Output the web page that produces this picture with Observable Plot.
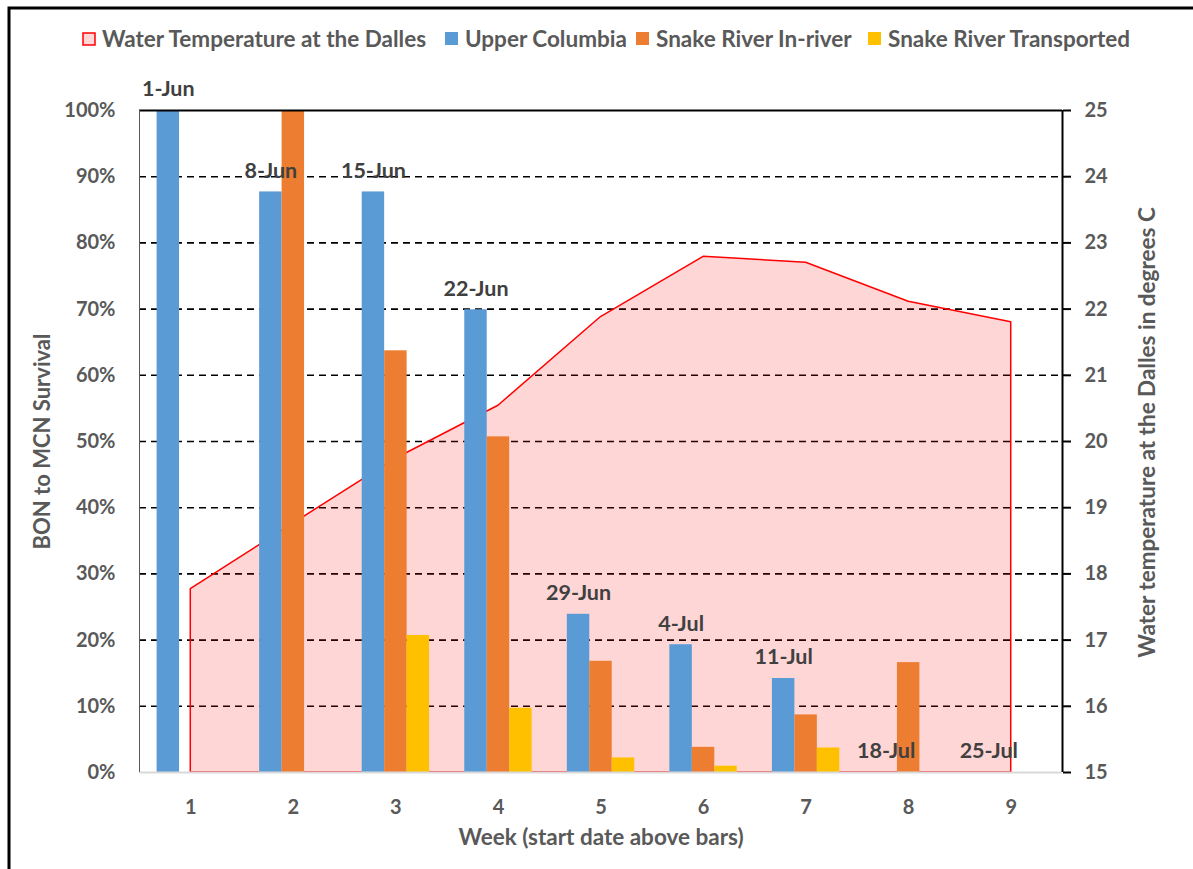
<!DOCTYPE html>
<html>
<head>
<meta charset="utf-8">
<script src="https://cdn.jsdelivr.net/npm/d3@7"></script>
<script src="https://cdn.jsdelivr.net/npm/@observablehq/plot@0.6"></script>
<style>
  html, body { margin: 0; padding: 0; background: #fff; }
  #chart { position: relative; width: 1193px; height: 869px; overflow: hidden; }
</style>
</head>
<body>
<div id="chart"></div>
<script>
// ---- data ----
const weeks = [1, 2, 3, 4, 5, 6, 7, 8, 9];
const startDates = ["1-Jun", "8-Jun", "15-Jun", "22-Jun", "29-Jun", "4-Jul", "11-Jul", "18-Jul", "25-Jul"];
const upperColumbia = [1.00, 0.877, 0.877, 0.699, 0.239, 0.193, 0.142, 0, 0];
const snakeInRiver = [0, 1.00, 0.637, 0.507, 0.168, 0.038, 0.087, 0.166, 0];
const snakeTransported = [0, 0, 0.207, 0.097, 0.022, 0.0095, 0.037, 0, 0];
const waterTemp = [17.77, 18.76, 19.74, 20.54, 21.88, 22.79, 22.70, 22.11, 21.80];
const tempDomain = [15, 25];
const pctTicks = [0, 0.1, 0.2, 0.3, 0.4, 0.5, 0.6, 0.7, 0.8, 0.9, 1.0];
const gridTicks = [0.1, 0.2, 0.3, 0.4, 0.5, 0.6, 0.7, 0.8, 0.9];
const seriesNames = ["Water Temperature at the Dalles", "Upper Columbia", "Snake River In-river", "Snake River Transported"];
const seriesColors = ["#FF0000", "#5B9BD5", "#ED7D31", "#FFC000"];

const rows = weeks.map((w, i) => ({
  week: w, date: startDates[i], uc: upperColumbia[i], sr: snakeInRiver[i], st: snakeTransported[i], temp: waterTemp[i]
}));

const tempToY = t => (t - tempDomain[0]) / (tempDomain[1] - tempDomain[0]);
const bw = 0.219; // bar width in week units
const FONT = "Lato, 'Open Sans', sans-serif";
const GRAY = "#595959";

const plot = Plot.plot({
  width: 1193,
  height: 869,
  marginTop: 110,
  marginBottom: 97,
  marginLeft: 139,
  marginRight: 131,
  style: { fontFamily: FONT, fontWeight: "bold", color: GRAY, background: "#fff", overflow: "visible" },
  x: { type: "linear", domain: [0.5, 9.5] },
  y: { domain: [0, 1] },
  marks: [
    Plot.ruleY(gridTicks, { stroke: "#000", strokeWidth: 1.6, strokeDasharray: "7,5" }),
    Plot.areaY(rows, { x: "week", y1: 0, y2: d => tempToY(d.temp), fill: "#FF0000", fillOpacity: 0.16, stroke: "#FF0000", strokeWidth: 1.5 }),
    Plot.rectY(rows, { x1: d => d.week - 1.5 * bw, x2: d => d.week - 0.5 * bw, y1: 0, y2: "uc", fill: seriesColors[1] }),
    Plot.rectY(rows, { x1: d => d.week - 0.5 * bw, x2: d => d.week + 0.5 * bw, y1: 0, y2: "sr", fill: seriesColors[2] }),
    Plot.rectY(rows, { x1: d => d.week + 0.5 * bw, x2: d => d.week + 1.5 * bw, y1: 0, y2: "st", fill: seriesColors[3] }),
    Plot.ruleY([0], { stroke: "#D9D9D9", strokeWidth: 2 }),
    Plot.ruleY([1], { x1: 0.5, x2: 9.5, stroke: "#000", strokeWidth: 2 }),
    Plot.ruleX([0.5], { y1: 0, y2: 1, stroke: "#595959", strokeWidth: 1 }),
    Plot.ruleX([9.5], { y1: 0, y2: 1, stroke: "#000", strokeWidth: 2 }),
    Plot.text(rows, { x: d => d.week - bw, y: "uc", text: "date", dy: -21, fontSize: 21.5, fontWeight: "bold", fill: "#404040" }),
    Plot.axisY({ anchor: "left", ticks: pctTicks, tickFormat: d3.format(".0%"), tickSize: 0, tickPadding: 24, fontSize: 20, label: null }),
    Plot.axisY({ anchor: "right", ticks: pctTicks, tickFormat: d => d3.format("d")(tempDomain[0] + d * (tempDomain[1] - tempDomain[0])), tickSize: 8, tickPadding: 14, stroke: "#000", strokeWidth: 2, fontSize: 20, label: null }),
    Plot.axisX({ ticks: weeks, tickFormat: d3.format("d"), tickSize: 0, tickPadding: 27, fontSize: 20, label: null }),
    Plot.text(["BON to MCN Survival"], { frameAnchor: "left", textAnchor: "middle", dx: -97, rotate: -90, fontSize: 22, fontWeight: "bold", fill: GRAY }),
    Plot.text(["Water temperature at the Dalles in degrees C"], { frameAnchor: "right", textAnchor: "middle", dx: 85, dy: -9, rotate: -90, fontSize: 22.5, fontWeight: "bold", fill: GRAY }),
    Plot.text(["Week (start date above bars)"], { frameAnchor: "bottom", dy: 72, fontSize: 22.5, fontWeight: "bold", fill: GRAY })
  ]
});

document.getElementById("chart").appendChild(plot);

// legend + outer frame
const svg = d3.select(plot);
svg.append("path").attr("d", "M9,869V8H1193").attr("fill", "none").attr("stroke", "#000").attr("stroke-width", 3);
const leg = svg.append("g").attr("font-family", FONT).attr("font-weight", "bold").attr("font-size", 22.5).attr("fill", GRAY).attr("text-anchor", "start");
const legX = [82, 445, 636, 868];
seriesNames.forEach((name, i) => {
  const g = leg.append("g").attr("transform", `translate(${legX[i]},32)`);
  if (i === 0) {
    g.append("rect").attr("x", 1).attr("y", 1).attr("width", 12).attr("height", 12).attr("fill", "#FFD7D7").attr("stroke", "#FF0000").attr("stroke-width", 1.5);
  } else {
    g.append("rect").attr("width", 13).attr("height", 13).attr("fill", seriesColors[i]);
  }
  g.append("text").attr("x", 20).attr("y", 7).attr("dy", "0.35em").text(name);
});
</script>
</body>
</html>
